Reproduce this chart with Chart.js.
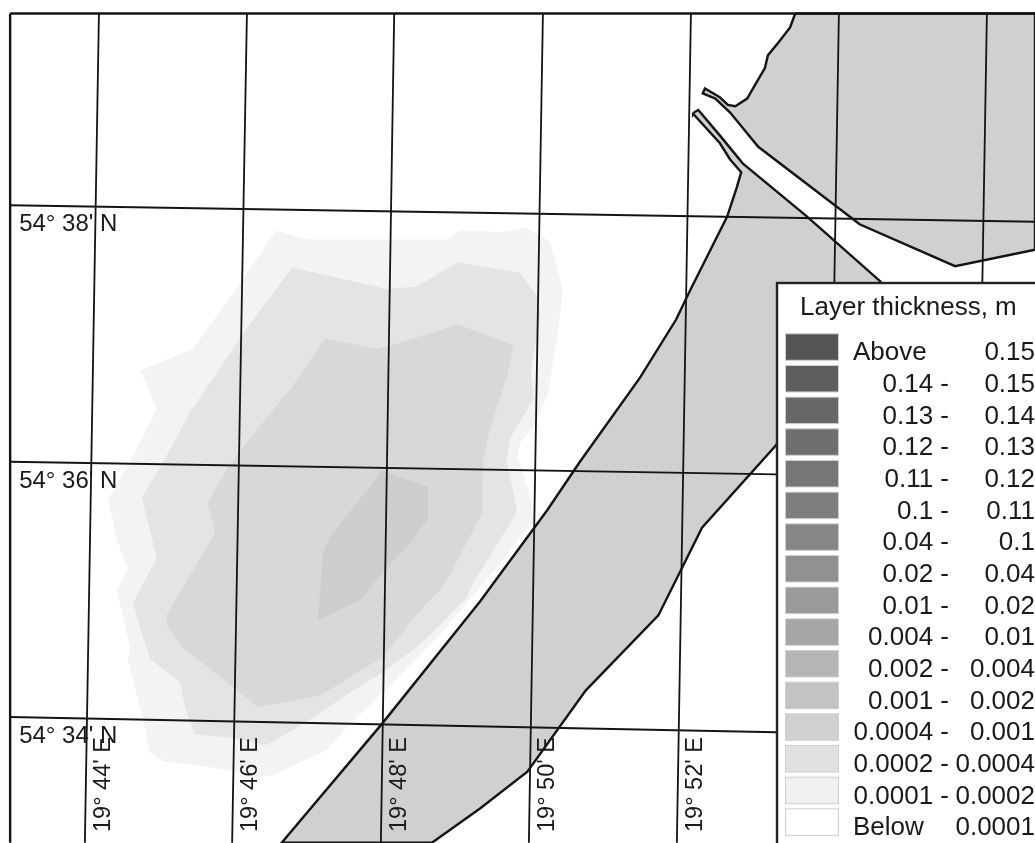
<!DOCTYPE html>
<html>
<head>
    <meta charset="utf-8">
    <script src="https://cdn.jsdelivr.net/npm/chart.js"></script>
    <style>
        body { margin: 0; background: #fff; }
        canvas { display: block; }
    </style>
</head>
<body>
    <canvas id="myChart" width="1035" height="843"></canvas>

    <script>
        // all map values are arc minutes: lon = 19 deg + x, lat = 54 deg + y (sheet grid)
        const contour1Lon = [46.47,46.89,48.78,48.96,49.54,49.84,50.00,50.18,50.35,50.30,50.15,50.11,49.95,49.77,49.74,49.91,49.95,49.74,49.50,49.23,48.69,47.91,47.43,47.16,46.42,46.26,45.54,44.95,44.77,44.68,44.47,44.50,44.32,44.47,44.34,44.20,44.50,44.86,44.64,45.35,45.96];
        const contour1Lat = [37.83,37.76,37.76,37.83,37.82,37.85,37.81,37.74,37.36,37.10,36.55,36.50,36.28,36.16,36.05,35.73,35.53,35.39,35.21,35.02,34.65,34.19,33.92,33.74,33.54,33.53,33.61,33.65,33.72,33.98,34.45,34.55,35.00,35.16,35.37,35.71,36.01,36.43,36.73,36.90,37.39];

        const contour2Lon = [46.69,47.97,48.38,48.93,49.77,50.00,50.05,49.92,49.95,49.64,49.59,49.73,49.64,49.14,49.05,48.42,47.91,47.41,47.07,46.62,46.35,45.81,45.38,45.34,45.24,45.18,44.77,44.70,44.54,44.86,44.66,44.95,45.31,46.03];
        const contour2Lat = [37.54,37.37,37.39,37.58,37.50,37.31,37.17,36.73,36.50,36.20,36.02,35.63,35.53,35.06,34.94,34.57,34.35,34.17,34.03,33.87,33.78,33.84,33.86,33.92,34.08,34.27,34.46,34.58,34.90,35.25,35.73,36.01,36.40,37.02];

        const contour3Lon = [47.14,47.84,48.05,48.93,49.68,49.61,49.36,49.27,49.26,48.86,48.69,48.42,47.91,47.07,46.53,46.22,45.89,45.22,45.01,44.99,45.65,45.55,45.82,46.03,46.69];
        const contour3Lat = [36.98,36.90,36.93,37.09,36.93,36.71,36.26,36.02,35.61,35.16,35.00,34.84,34.47,34.17,34.11,34.08,34.24,34.54,34.71,34.80,35.45,35.69,35.96,36.13,36.60];

        const contour4Lon = [47.91,48.53,48.53,48.32,47.97,47.61,47.38,47.04,47.11,47.20,47.57];
        const contour4Lat = [35.94,35.81,35.57,35.39,35.18,34.92,34.86,34.76,35.29,35.42,35.69];

        const landNorthLon = [53.49,53.42,53.26,53.12,53.08,53.01,52.84,52.68,52.58,52.47,52.27,52.24,52.41,52.61,52.99,54.36,55.65,56.73,56.73];
        const landNorthLat = [39.54,39.43,39.31,39.21,39.11,39.04,38.87,38.81,38.82,38.88,38.95,38.91,38.87,38.76,38.49,37.88,37.55,37.68,39.54];

        const landSouthLon = [52.12,52.11,52.47,52.61,52.76,52.70,52.57,52.07,51.88,51.39,50.58,50.14,49.23,47.91,46.55,48.58,49.23,49.87,50.66,51.64,52.23,53.23,54.64,53.65,52.78,52.47,52.18];
        const landSouthLat = [38.76,38.75,38.52,38.39,38.29,38.17,37.94,37.36,37.13,36.67,36.01,35.63,34.91,33.95,33.01,33.01,33.28,33.57,34.21,34.80,35.49,36.14,37.43,37.94,38.36,38.58,38.78];

        const latLabels = ["54° 38' N", "54° 36' N", "54° 34' N"];
        const latLineLon = [[42.88, 56.73], [42.88, 53.23], [42.88, 53.23]];
        const latLineLat = [[38.03, 37.90], [36.01, 35.91], [34.00, 33.88]];

        const lonLabels = ["19° 44' E", "19° 46' E", "19° 48' E", "19° 50' E", "19° 52' E", "", ""];
        const lonLineTop = [44.08, 46.08, 48.07, 50.08, 52.08, 54.08, 56.08];
        const lonLineBottom = [43.89, 45.88, 47.89, 49.89, 51.89, 53.89, 55.89];

        const legendTitle = 'Layer thickness, m';
        const legendFrom = ['Above','0.14','0.13','0.12','0.11','0.1','0.04','0.02','0.01','0.004','0.002','0.001','0.0004','0.0002','0.0001','Below'];
        const legendTo = ['0.15','0.15','0.14','0.13','0.12','0.11','0.1','0.04','0.02','0.01','0.004','0.002','0.001','0.0004','0.0002','0.0001'];
        const legendColors = ['#555555','#5e5e5e','#676767','#6f6f6f','#767676','#7e7e7e','#868686','#919191','#9a9a9a','#a6a6a6','#b5b5b5','#c3c3c3','#d0d0d0','#e0e0e0','#f0f0f0','#ffffff'];

        const LINE = '#141414';

        function toPoints(lon, lat) {
            return lon.map((x, i) => ({ x: x, y: lat[i] }));
        }

        function area(lon, lat, color, border) {
            const pts = toPoints(lon, lat);
            pts.push(pts[0]);
            return {
                data: pts,
                showLine: true,
                pointRadius: 0,
                tension: 0,
                fill: 'shape',
                backgroundColor: color,
                borderColor: border || color,
                borderWidth: border ? 2.4 : 0
            };
        }

        function line(lon, lat, width) {
            return {
                data: toPoints(lon, lat),
                showLine: true,
                pointRadius: 0,
                tension: 0,
                fill: false,
                borderColor: LINE,
                borderWidth: width
            };
        }

        // chart.js paints the first dataset last, so the top layer comes first
        const datasets = [];
        datasets.push(line([42.88, 42.88], [39.54, 33.01], 2.4));
        datasets.push(line([42.88, 56.73], [39.54, 39.54], 2.6));
        latLineLon.forEach((lon, i) => datasets.push(line(lon, latLineLat[i], 1.8)));
        lonLineTop.forEach((top, i) => datasets.push(line([top, lonLineBottom[i]], [39.54, 33.01], 1.8)));
        datasets.push(area(landNorthLon, landNorthLat, '#d0d0d0', LINE));
        datasets.push(area(landSouthLon, landSouthLat, '#d0d0d0', LINE));
        datasets.push(area(contour4Lon, contour4Lat, '#cdcdcd'));
        datasets.push(area(contour3Lon, contour3Lat, '#d8d8d8'));
        datasets.push(area(contour2Lon, contour2Lat, '#e4e4e4'));
        datasets.push(area(contour1Lon, contour1Lat, '#f3f3f3'));

        const labelsPlugin = {
            id: 'mapLabels',
            afterDatasetsDraw(chart) {
                const ctx = chart.ctx;
                const xs = chart.scales.x;
                const ys = chart.scales.y;
                ctx.save();
                ctx.fillStyle = '#1a1a1a';
                ctx.textBaseline = 'alphabetic';

                // latitude labels sit under their line at the left frame
                ctx.font = '24px "Liberation Sans"';
                ctx.textAlign = 'left';
                latLabels.forEach((label, i) => {
                    ctx.fillText(label, xs.getPixelForValue(latLineLon[i][0]) + 9, ys.getPixelForValue(latLineLat[i][0]) + 26);
                });

                // longitude labels run up the right side of their line
                ctx.font = '23.5px "Liberation Sans"';
                lonLabels.forEach((label, i) => {
                    if (!label) return;
                    ctx.save();
                    ctx.translate(xs.getPixelForValue(lonLineBottom[i]) + 25, 832);
                    ctx.rotate(-Math.PI / 2);
                    ctx.fillText(label, 0, 0);
                    ctx.restore();
                });

                // legend box, cut off by the page edge like the original
                ctx.fillStyle = '#ffffff';
                ctx.fillRect(776, 282, 270, 570);
                ctx.strokeStyle = '#222222';
                ctx.lineWidth = 2.4;
                ctx.strokeRect(777, 283, 270, 570);

                ctx.fillStyle = '#1a1a1a';
                ctx.font = '26px "Liberation Sans"';
                ctx.textAlign = 'left';
                ctx.fillText(legendTitle, 800, 315);

                legendFrom.forEach((from, i) => {
                    const base = 360.3 + i * 31.67;
                    ctx.fillStyle = legendColors[i];
                    ctx.fillRect(785.5, base - 26.5, 53, 26.5);
                    ctx.strokeStyle = '#cfcfcf';
                    ctx.lineWidth = 1;
                    ctx.strokeRect(785.5, base - 26.5, 53, 26.5);

                    ctx.fillStyle = '#1a1a1a';
                    if (from === 'Above' || from === 'Below') {
                        ctx.textAlign = 'left';
                        ctx.fillText(from, 853, base);
                    } else {
                        ctx.textAlign = 'right';
                        ctx.fillText(from + ' -', 949, base);
                    }
                    ctx.textAlign = 'right';
                    ctx.fillText(legendTo[i], 1035, base);
                });
                ctx.restore();
            }
        };

        new Chart(document.getElementById('myChart'), {
            type: 'scatter',
            data: { datasets: datasets },
            options: {
                responsive: false,
                animation: false,
                layout: { padding: 0 },
                plugins: {
                    legend: { display: false },
                    tooltip: { enabled: false }
                },
                scales: {
                    x: { type: 'linear', display: false, min: 42.743, max: 56.730 },
                    y: { type: 'linear', display: false, min: 33.008, max: 39.646 }
                }
            },
            plugins: [labelsPlugin]
        });
    </script>
</body>
</html>
